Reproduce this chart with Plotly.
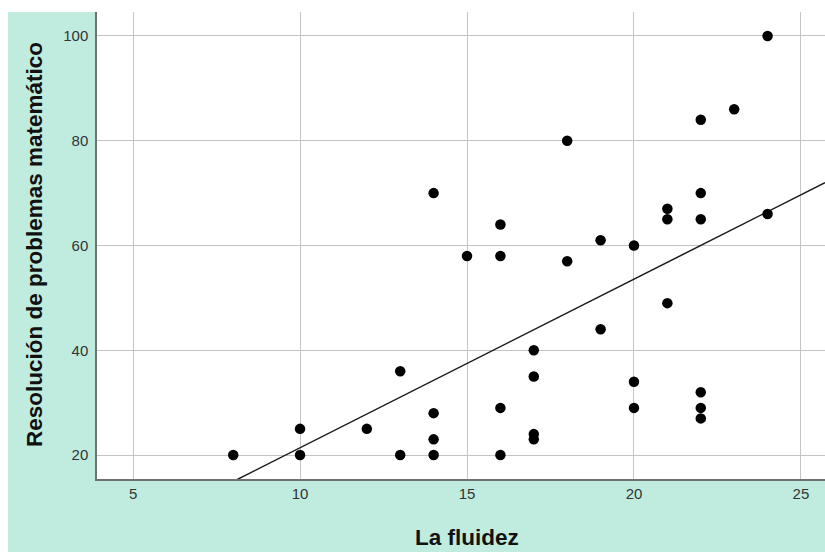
import numpy as np
import plotly.graph_objects as go

# Data
fluidez = [8, 10, 10, 12, 13, 13, 14, 14, 14, 14, 15,
           16, 16, 16, 16, 17, 17, 17, 17, 18, 18, 19, 19,
           20, 20, 20, 21, 21, 21, 22, 22, 22, 22, 22, 22, 23, 24, 24]
resolucion = [20, 25, 20, 25, 36, 20, 70, 28, 23, 20, 58,
              64, 58, 29, 20, 40, 35, 24, 23, 80, 57, 61, 44,
              60, 34, 29, 67, 65, 49, 84, 70, 65, 32, 29, 27, 86, 100, 66]
x_ticks = [5, 10, 15, 20, 25]
y_ticks = [20, 40, 60, 80, 100]
x_range = [3.92, 25.72]
y_range = [15.43, 104.57]
x_title = "La fluidez"
y_title = "Resolución de problemas matemático"

slope, intercept = np.polyfit(fluidez, resolucion, 1)
fit_x = np.array(x_range)
fit_y = slope * fit_x + intercept

MINT = "#c0ece0"
W, H = 825, 552
ML, MR, MT, MB = 97, 0, 12, 73
PW, PH = W - ML - MR, H - MT - MB

fig = go.Figure()
fig.add_trace(go.Scatter(x=fit_x, y=fit_y, mode="lines",
                         line=dict(color="#1a1a1a", width=1.5),
                         hoverinfo="skip", showlegend=False))
fig.add_trace(go.Scatter(x=fluidez, y=resolucion, mode="markers",
                         marker=dict(color="black", size=10.5),
                         showlegend=False))

# white strips at top and left of the mint background
fig.add_shape(type="rect", xref="paper", yref="paper",
              x0=-ML / PW - 0.01, x1=(8 - ML) / PW, y0=-MB / PH - 0.01, y1=1 + MT / PH + 0.01,
              fillcolor="white", line=dict(width=0), layer="above")
fig.add_shape(type="rect", xref="paper", yref="paper",
              x0=-ML / PW - 0.01, x1=1.01, y0=1, y1=1 + MT / PH + 0.01,
              fillcolor="white", line=dict(width=0), layer="above")

tickfont = dict(family="Liberation Sans, Arial, sans-serif", size=15, color="#333333")
titlefont = dict(family="Liberation Sans, Arial, sans-serif", size=22.5, color="#111111")

fig.add_annotation(text="<b>" + x_title + "</b>", xref="paper", yref="paper",
                   x=(467 - ML) / PW, y=-(537 - (H - MB)) / PH,
                   xanchor="center", yanchor="middle", showarrow=False, font=titlefont)
fig.add_annotation(text="<b>" + y_title + "</b>", xref="paper", yref="paper",
                   x=(34 - ML) / PW, y=1 - (245 - MT) / PH, textangle=-90,
                   xanchor="center", yanchor="middle", showarrow=False, font=titlefont)

fig.update_layout(
    width=W, height=H,
    margin=dict(l=ML, r=MR, t=MT, b=MB, pad=0),
    paper_bgcolor=MINT, plot_bgcolor="white",
    xaxis=dict(range=x_range, tickvals=x_ticks, showgrid=True,
               gridcolor="#c4c4c4", gridwidth=1, zeroline=False,
               showline=True, linecolor="#707070", linewidth=1.5,
               ticks="", tickfont=tickfont),
    yaxis=dict(range=y_range, tickvals=y_ticks, showgrid=True,
               gridcolor="#c4c4c4", gridwidth=1, zeroline=False,
               showline=True, linecolor="#707070", linewidth=1.5,
               ticks="", tickfont=tickfont, ticklabelstandoff=4),
)

fig.write_html("out.html")
